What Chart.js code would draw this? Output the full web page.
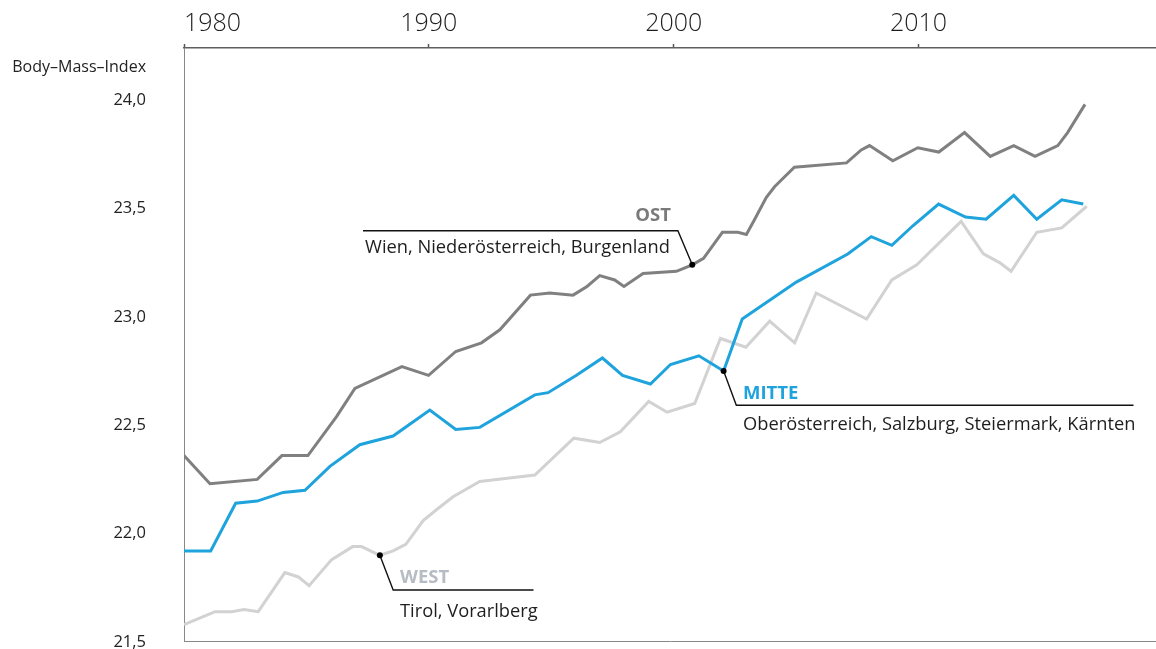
<!DOCTYPE html>
<html><head><meta charset="utf-8">
<script src="https://cdn.jsdelivr.net/npm/chart.js@4.4.1/dist/chart.umd.min.js"></script>
<style>html,body{margin:0;padding:0;background:#fff;overflow:hidden}#wrap{width:1156px;height:649px;position:relative}</style>
</head><body><div id="wrap"><canvas id="c" width="1156" height="649"></canvas></div>
<script>
// ---- data ----
const xTickYears = [1980, 1990, 2000, 2010];
const yTickValues = [21.5, 22.0, 22.5, 23.0, 23.5, 24.0];
const yAxisTitle = 'Body–Mass–Index';

const ostYears = [1980.0,1981.06,1982.99,1984.0,1985.06,1986.23,1986.98,1988.9,1989.99,1991.1,1992.15,1992.9,1994.15,1994.94,1995.89,1996.46,1996.98,1997.59,1997.97,1998.75,2000.11,2000.76,2001.22,2001.99,2002.62,2002.97,2003.31,2003.78,2004.12,2004.93,2007.06,2007.66,2008.0,2008.95,2009.97,2010.83,2011.88,2012.93,2013.89,2014.76,2015.69,2016.09,2016.8];
const ostValues = [22.36,22.23,22.25,22.36,22.36,22.54,22.67,22.77,22.73,22.84,22.88,22.94,23.10,23.11,23.10,23.14,23.19,23.17,23.14,23.20,23.21,23.24,23.27,23.39,23.39,23.38,23.45,23.55,23.60,23.69,23.71,23.77,23.79,23.72,23.78,23.76,23.85,23.74,23.79,23.74,23.79,23.85,23.98];

const mitteYears = [1980.0,1981.09,1982.11,1982.99,1984.05,1984.94,1985.96,1987.18,1988.54,1990.04,1991.1,1992.08,1994.33,1994.87,1996.03,1997.09,1997.91,1999.05,1999.87,2001.03,2002.04,2002.8,2005.01,2007.11,2008.07,2008.91,2009.77,2010.82,2011.92,2012.76,2013.89,2014.83,2015.85,2016.73];
const mitteValues = [21.92,21.92,22.14,22.15,22.19,22.20,22.31,22.41,22.45,22.57,22.48,22.49,22.64,22.65,22.73,22.81,22.73,22.69,22.78,22.82,22.75,22.99,23.16,23.29,23.37,23.33,23.42,23.52,23.46,23.45,23.56,23.45,23.54,23.52];

const westYears = [1980.0,1981.27,1981.95,1982.45,1983.03,1984.12,1984.67,1985.11,1986.03,1986.89,1987.25,1988.0,1988.54,1989.06,1989.77,1990.31,1990.99,1992.08,1994.33,1995.92,1996.98,1997.82,1998.98,1999.73,2000.86,2001.91,2002.95,2003.92,2004.94,2005.82,2007.88,2008.91,2009.93,2011.74,2012.65,2013.31,2013.78,2014.83,2015.85,2016.87];
const westValues = [21.58,21.64,21.64,21.65,21.64,21.82,21.80,21.76,21.88,21.94,21.94,21.90,21.92,21.95,22.06,22.11,22.17,22.24,22.27,22.44,22.42,22.47,22.61,22.56,22.60,22.90,22.86,22.98,22.88,23.11,22.99,23.17,23.24,23.44,23.29,23.25,23.21,23.39,23.41,23.51];

const seriesNames = ['MITTE', 'OST', 'WEST'];
const seriesRegions = ['Oberösterreich, Salzburg, Steiermark, Kärnten', 'Wien, Niederösterreich, Burgenland', 'Tirol, Vorarlberg'];

// ---- styling ----
const FONT = '"Open Sans", "Noto Sans", "DejaVu Sans", sans-serif';
const COLORS = { MITTE: '#1fa3dc', OST: '#808080', WEST: '#d2d2d2' };
const LABEL_COLORS = { MITTE: '#1fa3dc', OST: '#7a7a7a', WEST: '#b5bcc3' };

const toPoints = (xs, ys) => xs.map((x, i) => ({ x: x, y: ys[i] }));

// annotation layout (pixel offsets relative to the anchored data point)
const annotations = [
  { ds: 1, idx: 21, ex: -14.4, ey: -34, lineEnd: 363, titleAlign: 'right', titleX: 671, titleDy: -10, subX: 365, subDy: 22.6 },
  { ds: 0, idx: 20, ex: 12.7, ey: 34.3, lineEnd: 1133.5, titleAlign: 'left', titleX: 743, titleDy: -6.7, subX: 743, subDy: 24.3 },
  { ds: 2, idx: 11, ex: 13.3, ey: 34.7, lineEnd: 533.5, titleAlign: 'left', titleX: 400, titleDy: -7.4, subX: 400, subDy: 27 }
];

const annotPlugin = {
  id: 'annot',
  afterDatasetsDraw(chart) {
    const c = chart.ctx;
    const xs = chart.scales.x, ys = chart.scales.y;
    c.save();
    // y-axis title
    c.font = '16px ' + FONT;
    c.fillStyle = '#222';
    c.textAlign = 'right';
    c.textBaseline = 'alphabetic';
    c.fillText(yAxisTitle, 146, 71.5);

    annotations.forEach(a => {
      const ds = chart.data.datasets[a.ds];
      const p = ds.data[a.idx];
      const ax = xs.getPixelForValue(p.x), ay = ys.getPixelForValue(p.y);
      const ex = ax + a.ex, ey = ay + a.ey;
      c.strokeStyle = '#111';
      c.lineWidth = 1.4;
      c.beginPath();
      c.moveTo(ax, ay);
      c.lineTo(ex, ey);
      c.lineTo(a.lineEnd, ey);
      c.stroke();
      c.fillStyle = '#000';
      c.beginPath();
      c.arc(ax, ay, 3, 0, Math.PI * 2);
      c.fill();
      const name = seriesNames[a.ds];
      c.font = 'bold 18.5px ' + FONT;
      c.fillStyle = LABEL_COLORS[name];
      c.textAlign = a.titleAlign;
      c.fillText(name, a.titleX, ey + a.titleDy);
      c.font = '18.3px ' + FONT;
      c.fillStyle = '#1e1e1e';
      c.textAlign = 'left';
      c.fillText(seriesRegions[a.ds], a.subX, ey + a.subDy);
    });
    c.restore();
  }
};

const X_MAX = 2019.7;

new Chart(document.getElementById('c').getContext('2d'), {
  type: 'line',
  data: {
    datasets: [
      { label: 'MITTE', data: toPoints(mitteYears, mitteValues), borderColor: COLORS.MITTE, borderWidth: 3, pointRadius: 0, tension: 0, fill: false },
      { label: 'OST', data: toPoints(ostYears, ostValues), borderColor: COLORS.OST, borderWidth: 3, pointRadius: 0, tension: 0, fill: false },
      { label: 'WEST', data: toPoints(westYears, westValues), borderColor: COLORS.WEST, borderWidth: 3, pointRadius: 0, tension: 0, fill: false }
    ]
  },
  options: {
    responsive: false,
    animation: false,
    events: [],
    layout: { padding: 0 },
    plugins: { legend: { display: false }, tooltip: { enabled: false }, title: { display: false } },
    scales: {
      x: {
        type: 'linear', position: 'top', min: 1980, max: X_MAX,
        afterBuildTicks: s => { s.ticks = xTickYears.concat([X_MAX]).map(v => ({ value: v })); },
        afterFit: s => { s.height = 48; },
        ticks: {
          align: 'inner', maxRotation: 0, autoSkip: false, padding: 0,
          font: { family: FONT, size: 25, weight: '300', lineHeight: 1.6 }, color: '#1e1e1e',
          callback: v => xTickYears.includes(v) ? String(v) : ''
        },
        grid: {
          drawOnChartArea: false, drawTicks: true, tickLength: 4, tickWidth: 1.5,
          tickColor: ctx => (ctx.tick && xTickYears.includes(ctx.tick.value)) ? '#555' : 'rgba(0,0,0,0)'
        },
        border: { display: true, color: '#5f5f5f', width: 1.5 }
      },
      xb: {
        type: 'linear', axis: 'x', position: 'bottom', display: true,
        ticks: { display: false, padding: 0 }, grid: { display: false, drawTicks: false },
        border: { display: true, color: '#888', width: 1, dash: [1, 2] },
        afterFit: s => { s.height = 7; }
      },
      y: {
        type: 'linear', min: 21.5, max: 24.24,
        afterBuildTicks: s => { s.ticks = yTickValues.map(v => ({ value: v })); },
        afterFit: s => { s.width = 184; },
        ticks: {
          padding: 0, font: { family: FONT, size: 16.5, lineHeight: 0.85 }, color: '#222',
          callback: v => v.toFixed(1).replace('.', ',')
        },
        grid: { drawOnChartArea: false, drawTicks: true, tickLength: 38, tickColor: 'rgba(0,0,0,0)' },
        border: { display: true, color: '#888', width: 1, dash: [1, 2] }
      }
    }
  },
  plugins: [annotPlugin]
});
</script>
</body></html>
